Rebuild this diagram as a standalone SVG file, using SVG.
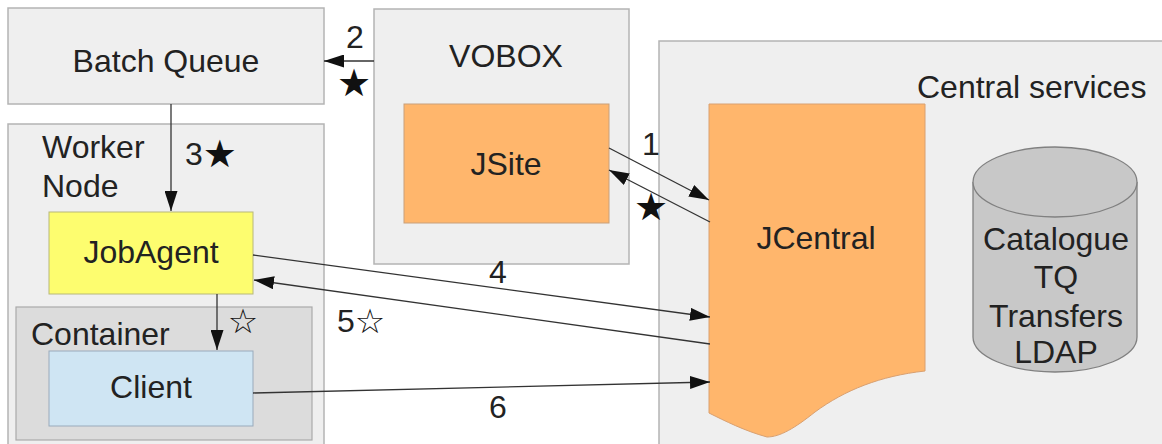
<svg xmlns="http://www.w3.org/2000/svg" width="1162" height="444" viewBox="0 0 1162 444">
<style>
.box{fill:#efefef;stroke:#b4b4b4;stroke-width:1.5}
.t{font-family:"Liberation Sans","DejaVu Sans",sans-serif;font-size:32px;fill:#222}
.m{text-anchor:middle}
.s{font-family:"DejaVu Sans",sans-serif;font-size:38px;fill:#111}
.h{font-family:"DejaVu Sans",sans-serif;font-size:34px;fill:#111}
.c{stroke:#333;stroke-width:1.3;fill:none;marker-end:url(#ah)}
</style>
<defs>
<marker id="ah" viewBox="0 0 20 13" refX="20" refY="6.5" markerWidth="20" markerHeight="13" markerUnits="userSpaceOnUse" orient="auto">
<path d="M0,0 L20,6.5 L0,13 Z" fill="#111"/>
</marker>
</defs>
<rect width="1162" height="444" fill="#fff"/>
<g id="batch-queue">
<rect class="box" x="8" y="8" width="316" height="96"/>
<text class="t m" x="166" y="72">Batch Queue</text>
</g>
<g id="worker-node">
<rect class="box" x="8" y="124" width="316" height="330"/>
<text class="t" x="42" y="158">Worker</text>
<text class="t" x="42" y="197">Node</text>
</g>
<g id="vobox">
<rect class="box" x="374" y="9" width="255" height="255"/>
<text class="t m" x="506" y="67">VOBOX</text>
</g>
<g id="central-services">
<rect class="box" x="659" y="41" width="520" height="410"/>
<text class="t" x="917" y="98">Central services</text>
</g>
<g id="jsite">
<rect x="404" y="104" width="205" height="119" fill="#ffb66c" stroke="#c9a07a" stroke-width="1"/>
<text class="t m" x="506" y="175">JSite</text>
</g>
<g id="jcentral">
<path d="M709,104 L925,104 L925,371 C880,376 845,390 815,412 C795,428 780,437 767,437 C745,431 725,421 709,413 Z" fill="#ffb66c" stroke="#d9a070" stroke-width="1"/>
<text class="t m" x="816" y="249">JCentral</text>
</g>
<g id="database">
<path d="M973,182 L973,337 A82,35 0 0 0 1137,337 L1137,182" fill="#c8c8c8" stroke="#808080" stroke-width="1.3"/>
<ellipse cx="1055" cy="182" rx="82" ry="35" fill="#c8c8c8" stroke="#808080" stroke-width="1.3"/>
<text class="t m" x="1056" y="250">Catalogue</text>
<text class="t m" x="1056" y="288">TQ</text>
<text class="t m" x="1056" y="327">Transfers</text>
<text class="t m" x="1056" y="363">LDAP</text>
</g>
<g id="job-agent">
<rect x="49" y="212" width="204" height="82" fill="#fdfd6f" stroke="#b8b87a" stroke-width="1"/>
<text class="t m" x="151" y="263">JobAgent</text>
</g>
<g id="container">
<rect x="16" y="307" width="296" height="133" fill="#dcdcdc" stroke="#aaa" stroke-width="1.2"/>
<text class="t" x="31" y="345">Container</text>
</g>
<g id="client">
<rect x="49" y="351" width="204" height="75" fill="#cfe5f3" stroke="#9ab" stroke-width="1"/>
<text class="t m" x="151" y="398">Client</text>
</g>
<g id="connectors">
<line class="c" x1="374" y1="61" x2="324" y2="61"/>
<line class="c" x1="171" y1="104" x2="171" y2="211"/>
<line class="c" x1="217" y1="294" x2="217" y2="350"/>
<line class="c" x1="609" y1="148" x2="709" y2="200"/>
<line class="c" x1="710" y1="222" x2="609" y2="170"/>
<line class="c" x1="253" y1="255" x2="710" y2="317"/>
<line class="c" x1="710" y1="344" x2="254" y2="280"/>
<line class="c" x1="253" y1="393" x2="710" y2="382"/>
<text class="t" x="346" y="48">2</text>
<text class="s m" x="354" y="96">★</text>
<text class="t" x="185" y="165">3<tspan class="s" dy="2">★</tspan></text>
<text class="h m" x="243" y="333">☆</text>
<text class="t" x="642" y="155">1</text>
<text class="s m" x="651" y="220">★</text>
<text class="t m" x="498" y="283">4</text>
<text class="t" x="337" y="332">5<tspan class="h" dy="1">☆</tspan></text>
<text class="t m" x="498" y="418">6</text>
</g>
</svg>
